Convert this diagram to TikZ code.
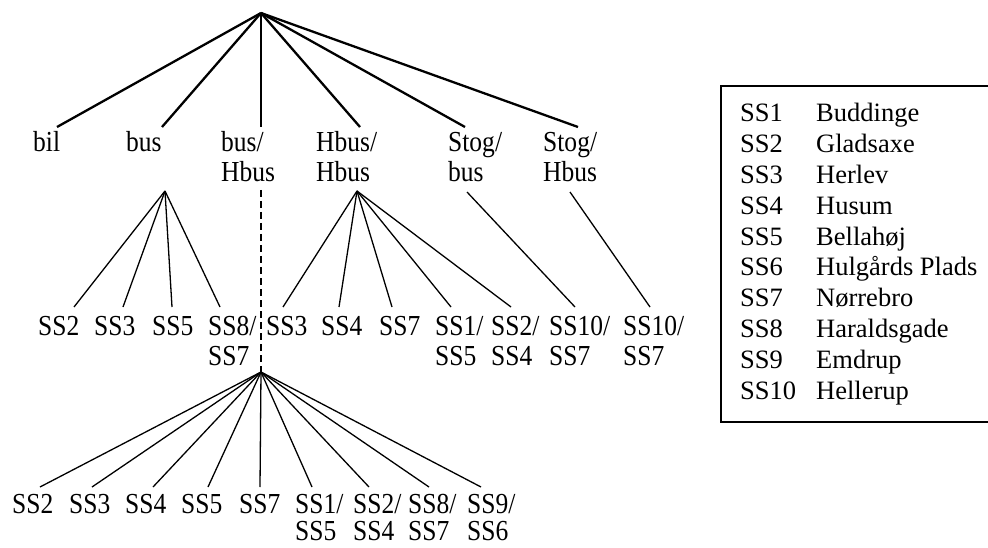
\documentclass[tikz,border=0pt]{standalone}
\usepackage{fontspec}
\setmainfont{Liberation Serif}
\newfontfamily\tallserif[FakeStretch=0.88]{Liberation Serif}
\usetikzlibrary{positioning}

\newcommand{\twoline}[2]{\begin{tabular}[t]{@{}l@{}}#1\\#2\end{tabular}}

\tikzset{
  lbl/.style={anchor=base west, inner sep=0pt, font=\tallserif\fontsize{29}{30}\selectfont},
  lowlbl/.style={lbl, font=\tallserif\fontsize{29}{27}\selectfont},
  keylbl/.style={anchor=base west, inner sep=0pt, font=\fontsize{26.5}{30}\selectfont},
  trunk/.style={line width=2.3pt},
  twig/.style={line width=1.3pt},
  link/.style={line width=1.5pt, dash pattern=on 7pt off 4pt},
}

\begin{document}
\begin{tikzpicture}[x=1pt,y=-1pt]
            \useasboundingbox (0,0) rectangle (988,548);

            % level 1
            \coordinate (root) at (261,13);
            \node[lbl] (bil)      at (33,152)  {bil};
            \node[lbl] (bus)      at (126,152) {bus};
            \node[lbl] (bushbus)  at (221,152) {\twoline{bus/}{Hbus}};
            \node[lbl] (hbus)     at (316,152) {\twoline{Hbus/}{Hbus}};
            \node[lbl] (stogbus)  at (448,152) {\twoline{Stog/}{bus}};
            \node[lbl] (stoghbus) at (543,152) {\twoline{Stog/}{Hbus}};

            \foreach \x [count=\i] in {57,162,261,360,465,578}
               \coordinate (top\i) at (\x,127);
            \foreach \i in {1,...,6}
               \draw[trunk] (root) -- (top\i);

            % level 2
            \coordinate (busapex)  at (165,191);
            \coordinate (hbusapex) at (357,191);
            \coordinate (sbapex)   at (467,192);
            \coordinate (shapex)   at (570,192);
            \coordinate (linkup)   at (261,190);
            \coordinate (lowapex)  at (261,372);

            \node[lbl] (bA) at (38,335)  {SS2};
            \node[lbl] (bB) at (94,335)  {SS3};
            \node[lbl] (bC) at (152,335) {SS5};
            \node[lbl] (bD) at (208,335) {\twoline{SS8/}{SS7}};
            \node[lbl] (hA) at (266,335) {SS3};
            \node[lbl] (hB) at (321,335) {SS4};
            \node[lbl] (hC) at (379,335) {SS7};
            \node[lbl] (hD) at (435,335) {\twoline{SS1/}{SS5}};
            \node[lbl] (hE) at (491,335) {\twoline{SS2/}{SS4}};
            \node[lbl] (sb) at (549,335) {\twoline{SS10/}{SS7}};
            \node[lbl] (sh) at (623,335) {\twoline{SS10/}{SS7}};

            \foreach \x [count=\i] in {74,123,172,220}
               \coordinate (busend\i) at (\x,307);
            \foreach \x [count=\i] in {283,339,392,451,511}
               \coordinate (hbusend\i) at (\x,307);
            \coordinate (sbend) at (575,307);
            \coordinate (shend) at (650,307);

            \foreach \i in {1,...,4}
               \draw[twig] (busapex) -- (busend\i);
            \foreach \i in {1,...,5}
               \draw[twig] (hbusapex) -- (hbusend\i);
            \draw[twig] (sbapex) -- (sbend);
            \draw[twig] (shapex) -- (shend);
            \draw[link] (linkup) -- (lowapex);

            % level 3
            \node[lowlbl] (lA) at (12,513)  {SS2};
            \node[lowlbl] (lB) at (69,513)  {SS3};
            \node[lowlbl] (lC) at (125,513) {SS4};
            \node[lowlbl] (lD) at (181,513) {SS5};
            \node[lowlbl] (lE) at (239,513) {SS7};
            \node[lowlbl] (lF) at (295,513) {\twoline{SS1/}{SS5}};
            \node[lowlbl] (lG) at (353,513) {\twoline{SS2/}{SS4}};
            \node[lowlbl] (lH) at (408,513) {\twoline{SS8/}{SS7}};
            \node[lowlbl] (lI) at (467,513) {\twoline{SS9/}{SS6}};

            \foreach \x [count=\i] in {40,92,153,208,260,312,369,429,481}
               \coordinate (lowend\i) at (\x,487);
            \foreach \i in {1,...,9}
               \draw[twig] (lowapex) -- (lowend\i);

            % legend
            \draw[line width=1.5pt] (721,86) rectangle (995,422);
            \foreach \code/\place [count=\i] in {SS1/Buddinge, SS2/Gladsaxe,
                  SS3/Herlev, SS4/Husum, SS5/Bellahøj, SS6/Hulgårds Plads,
                  SS7/Nørrebro, SS8/Haraldsgade, SS9/Emdrup, SS10/Hellerup}
            {
               \node[keylbl] (code\i)  at (740,{122+30.8*(\i-1)}) {\code};
               \node[keylbl] (place\i) at (816,{122+30.8*(\i-1)}) {\place};
            }
        \end{tikzpicture}
\end{document}
